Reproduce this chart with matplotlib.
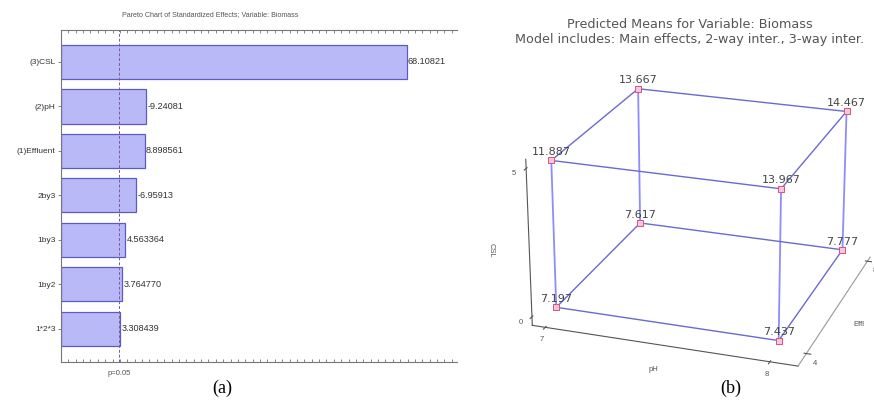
import itertools
import matplotlib
matplotlib.use("Agg")
import matplotlib.pyplot as plt
from matplotlib.ticker import MultipleLocator, AutoMinorLocator

plt.rcParams['font.family'] = ['Liberation Sans', 'DejaVu Sans']

# Pareto chart data (standardized effects)
effects = ["(3)CSL", "(2)pH", "(1)Effluent", "2by3", "1by3", "1by2", "1*2*3"]
effect_vals = [68.10821, 9.24081, 8.898561, 6.95913, 4.563364, 3.764770, 3.308439]
effect_text = ["68.10821", "-9.24081", "8.898561", "-6.95913", "4.563364", "3.764770", "3.308439"]
t_crit = 3.182

# Predicted means, indexed [csl][effluent][ph]
ph_levels = [7, 8]
eff_levels = [4, 8]
csl_levels = [0, 5]
means = [[[7.197, 7.437], [7.617, 7.777]],
         [[11.887, 13.967], [13.667, 14.467]]]

fig = plt.figure(figsize=(8.74, 4.07), dpi=100)

# ---- (a) Pareto chart ----
ax = fig.add_axes([61 / 874, 1 - 362 / 407, (457 - 61) / 874, (362 - 30) / 407])
x0 = -10
pos = list(range(len(effects)))
ax.barh(pos, [v - x0 for v in effect_vals], left=x0, height=0.77,
        color='#b9b9f7', edgecolor='#5b5bc8', linewidth=0.9)
for p, v, s in zip(pos, effect_vals, effect_text):
    ax.text(v + 0.3, p, s, va='center', ha='left', fontsize=6.6, color='#333333')
ax.axvline(t_crit, color='#7a5a9a', linestyle=(0, (3, 2)), linewidth=0.7)
ax.set_xlim(x0, 79.5)
ax.set_ylim(len(effects) - 0.25, -0.72)
ax.set_yticks(pos)
ax.set_yticklabels(effects, fontsize=6, color='#333333')
ax.xaxis.set_major_locator(MultipleLocator(10))
ax.xaxis.set_minor_locator(AutoMinorLocator(6))
ax.tick_params(axis='x', which='both', top=True, bottom=True, direction='in',
               length=2, width=0.5, labelbottom=False, color='#555555')
ax.tick_params(axis='y', length=2, width=0.5, pad=2, color='#555555')
ax.spines['right'].set_visible(False)
for side in ('top', 'bottom', 'left'):
    ax.spines[side].set_color('#777777')
    ax.spines[side].set_linewidth(0.8)
fig.text(210 / 874, 1 - 15 / 407, "Pareto Chart of Standardized Effects; Variable: Biomass",
         ha='center', va='center', fontsize=5.1, color='#555555')
ax.text(t_crit, -0.025, "p=0.05", transform=ax.get_xaxis_transform(),
        ha='center', va='top', fontsize=5.5, color='#555555')

# ---- (b) Predicted means cube ----
ax3 = fig.add_axes([0.570, 0.05, 0.47, 0.84], projection='3d')
ax3.view_init(elev=22, azim=-71)
ax3.set_box_aspect((1, 1, 0.64), zoom=1.19)
for a in (ax3.xaxis, ax3.yaxis, ax3.zaxis):
    a.set_pane_color((1, 1, 1, 0))
    a.pane.set_edgecolor('#e2e2e2')
    a.pane.set_linewidth(0.6)
ax3.grid(False)

corners = list(itertools.product(range(2), range(2), range(2)))
for (c, e, p) in corners:
    for (c2, e2, p2) in corners:
        if (c, e, p) < (c2, e2, p2) and abs(c - c2) + abs(e - e2) + abs(p - p2) == 1:
            vert = c != c2
            ax3.plot([ph_levels[p], ph_levels[p2]], [eff_levels[e], eff_levels[e2]],
                     [csl_levels[c], csl_levels[c2]],
                     color='#8c8cff' if vert else '#6a6ad0',
                     linewidth=1.3 if vert else 1.0)
for (c, e, p) in corners:
    x, y, z = ph_levels[p], eff_levels[e], csl_levels[c]
    ax3.scatter([x], [y], [z], marker='s', s=16, facecolor='#f4c8dc',
                edgecolor='#e0507f', linewidth=0.7, depthshade=False)
    ax3.text(x, y, z + 0.12, f"{means[c][e][p]:.3f}", ha='center', va='bottom',
             fontsize=8, color='#444444', family='DejaVu Sans')

dx = ph_levels[1] - ph_levels[0]
dy = eff_levels[1] - eff_levels[0]
dz = csl_levels[1] - csl_levels[0]
ax3.set_xlim(ph_levels[0] - 0.06 * dx, ph_levels[1] + 0.12 * dx)
ax3.set_ylim(eff_levels[0] - 0.12 * dy, eff_levels[1] + 0.05 * dy)
ax3.set_zlim(csl_levels[0] - 0.06 * dz, csl_levels[1] + 0.06 * dz)
ax3.set_xticks(ph_levels)
ax3.set_yticks(eff_levels)
ax3.set_zticks(csl_levels)
ax3.zaxis.set_ticks_position('lower')
ax3.zaxis.set_label_position('lower')
ax3.tick_params(labelsize=5.5, colors='#555555', pad=-4)
ax3.xaxis.line.set_color('#555555')
ax3.zaxis.line.set_color('#555555')
ax3.yaxis.line.set_color('#999999')
ax3.set_xlabel("pH", fontsize=5.5, color='#555555', labelpad=-10)
ax3.set_ylabel("Effl", fontsize=5.5, color='#555555', labelpad=-10)
ax3.zaxis.set_rotate_label(False)
ax3.set_zlabel("CSL", fontsize=5.5, color='#555555', labelpad=-8, rotation=270)

fig.text(690 / 874, 1 - 25 / 407, "Predicted Means for Variable: Biomass",
         ha='center', va='center', fontsize=9.2, color='#555555', family='DejaVu Sans')
fig.text(690 / 874, 1 - 39 / 407, "Model includes: Main effects, 2-way inter., 3-way inter.",
         ha='center', va='center', fontsize=9.2, color='#555555', family='DejaVu Sans')

fig.text(222 / 874, 1 - 388 / 407, "(a)", ha='center', va='center',
         fontsize=13, family='Liberation Serif')
fig.text(731 / 874, 1 - 388 / 407, "(b)", ha='center', va='center',
         fontsize=13, family='Liberation Serif')

fig.savefig("out.png", dpi=100)
